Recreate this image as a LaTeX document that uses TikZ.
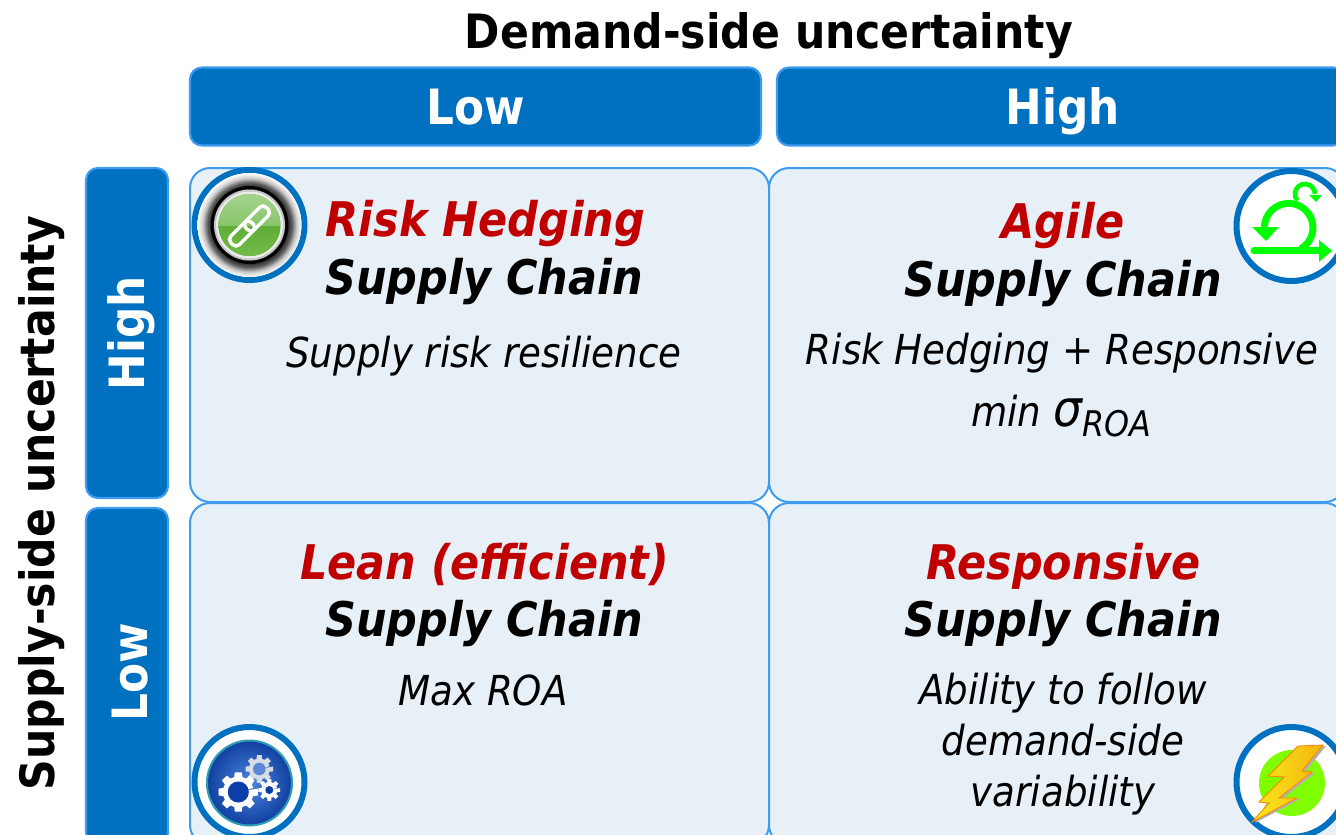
\documentclass[tikz,border=0pt]{standalone}
\usepackage{fontspec}
\setmainfont{DejaVu Sans}[FakeStretch=0.9]
\usetikzlibrary{calc}
\definecolor{hdr}{HTML}{0070C0}
\definecolor{edge}{HTML}{3D9CF0}
\definecolor{cellbg}{HTML}{E8F0F7}
\definecolor{redt}{HTML}{C00000}
\definecolor{agile}{HTML}{00FF00}
\definecolor{lime}{HTML}{80FF00}
\definecolor{glossa}{HTML}{A4D48C}
\definecolor{glossb}{HTML}{6DB54A}
\definecolor{glossc}{HTML}{4C9C26}
\definecolor{glossd}{HTML}{72BC48}
\definecolor{blin}{HTML}{4F86DB}
\definecolor{blout}{HTML}{0F3FA0}
\definecolor{blrim}{HTML}{2E9DB5}
\definecolor{holea}{HTML}{0A3EA8}
\definecolor{holeb}{HTML}{5A88D8}
\definecolor{gearg}{HTML}{D8DCE4}
\definecolor{boltl}{HTML}{F6EA1A}
\definecolor{boltr}{HTML}{F5B50F}
\pgfdeclareradialshading{halo}{\pgfpointorigin}{color(0bp)=(black); color(18bp)=(black!85!white); color(20.2bp)=(black!65!white); color(22.6bp)=(black!20!white); color(25bp)=(white); color(50bp)=(white)}
\newcommand{\gearat}[7]{% x,y,outer,inner,hole factor,colour,hole colour
  \fill[#6] (#1,#2) \foreach \a in {0,45,...,315}{
     -- ($(#1,#2)+(\a-10:#3)$) -- ($(#1,#2)+(\a+10:#3)$) -- ($(#1,#2)+(\a+15:#4)$) -- ($(#1,#2)+(\a+30:#4)$)
  } -- cycle;
  \fill[#7] (#1,#2) circle[radius=#4*#5];
}
\tikzset{
  x=0.75pt,y=-0.75pt,
  head/.style={draw=edge,line width=1.6pt,fill=hdr,rounded corners=9pt,inner sep=0pt},
  headt/.style={text=white,font=\bfseries\fontsize{36.5pt}{38pt}\selectfont,inner sep=0pt},
  axist/.style={font=\bfseries\fontsize{35.5pt}{36pt}\selectfont,inner sep=0pt},
  cell/.style={draw=edge,line width=1.5pt,fill=cellbg,rounded corners=15pt},
  ring/.style={draw=hdr,line width=4.5pt,fill=white},
  ttl/.style={font=\bfseries\itshape\fontsize{35.8pt}{36pt}\selectfont,inner sep=0pt},
  body/.style={font=\itshape\fontsize{31pt}{38.5pt}\selectfont,inner sep=0pt,align=center},
}
\begin{document}
\begin{tikzpicture}
\useasboundingbox (0,0) rectangle (1336,835);
\clip (0,0) rectangle (1336,835);
\fill[white] (0,0) rectangle (1336,835);
% headers
\node[head,minimum width=428.25pt,minimum height=58.5pt] (low) at (475.5,106.5) {};
\node[head,minimum width=426pt,minimum height=58.5pt] (high) at (1061,106.5) {};
\node[headt,anchor=base] (lowt) at (475.5,124) {Low};
\node[headt,anchor=base] (hight) at (1063,124) {High};
\node[head,minimum width=61.5pt,minimum height=247.5pt] (shigh) at (127,333) {};
\node[head,minimum width=61.5pt,minimum height=252.75pt] (slow) at (127,676.5) {};
\node[headt,rotate=90] (shight) at (131,333) {High};
\node[headt,rotate=90] (slowt) at (130,672) {Low};
\node[axist] (demand) at (769,36) {Demand-side uncertainty};
\node[axist,rotate=90] (supply) at (42,503) {Supply-side uncertainty};
% cells
\node[cell,minimum width=434.25pt,minimum height=250.5pt] (c1) at (479.5,335) {};
\node[cell,minimum width=432pt,minimum height=250.5pt] (c2) at (1057,335) {};
\node[cell,minimum width=434.25pt,minimum height=256.5pt] (c3) at (479.5,674) {};
\node[cell,minimum width=432pt,minimum height=256.5pt] (c4) at (1057,674) {};
% texts
\node[ttl,text=redt] (t1) at (485.5,224) {Risk Hedging};
\node[ttl] (t1b) at (484,282) {Supply Chain};
\node[body] (b1) at (484,356) {Supply risk resilience};
\node[ttl,text=redt] (t2) at (1063,226) {Agile};
\node[ttl] (t2b) at (1063,284) {Supply Chain};
\node[body] (b2) at (1062,353) {Risk Hedging + Responsive};
\node[body] (b2b) at (1061,416) {min {\fontsize{38pt}{38pt}\selectfont σ}\raisebox{-7.5pt}{\fontsize{26.5pt}{26pt}\selectfont ROA}};
\node[ttl,text=redt] (t3) at (484.5,565) {Lean (efficient)};
\node[ttl] (t3b) at (484,624) {Supply Chain};
\node[body] (b3) at (483,690) {Max ROA};
\node[ttl,text=redt] (t4) at (1063.5,566) {Responsive};
\node[ttl] (t4b) at (1063,624) {Supply Chain};
\node[body] (b4) at (1063,744) {Ability to follow\\demand-side\\variability};
% icon 1: chain
\draw[ring] (249.5,225) circle[radius=55];
\shade[shading=halo] (249.5,225) circle[radius=52];
\draw[black,line width=2.2pt] (249.5,225) circle[radius=37.5];
\fill[gray!45] (249.5,225) circle[radius=35.5];
\fill[white!85!gray] (249.5,225) circle[radius=33.5];
\fill[glossc] (249.5,225) circle[radius=31];
\begin{scope}
  \clip (218.5,194) rectangle (280.5,226);
  \shade[top color=glossa,bottom color=glossb] (249.5,225) circle[radius=31];
\end{scope}
\begin{scope}
  \clip (218.5,226) rectangle (280.5,256);
  \shade[top color=glossc,bottom color=glossd] (249.5,225) circle[radius=31];
\end{scope}
\begin{scope}[shift={(249.5,226)},rotate=45]
  \draw[white,line width=2.6pt,rounded corners=3.5pt] (-25,-6) rectangle (4,6);
  \draw[white,line width=2.6pt,rounded corners=3.5pt] (-4,-6) rectangle (25,6);
\end{scope}
% icon 2: agile
\draw[ring] (1291.5,226) circle[radius=55];
\draw[agile,line width=5.2pt] (1300.85,248.7) arc[start angle=60,end angle=-180,radius=24.3];
\fill[agile] (1252,227) -- (1279,227) -- (1266,241) -- cycle;
\draw[agile,line width=5.2pt,line cap=round] (1254,250.7) -- (1322,250.7);
\fill[agile] (1319,240) -- (1332,250.7) -- (1319,262) -- cycle;
\draw[agile,line width=3.5pt] (1297.3,200.4) arc[start angle=140,end angle=360,radius=10];
\fill[agile] (1309,195) -- (1322,195) -- (1316,202) -- cycle;
% icon 3: gears
\draw[ring] (249.5,782) circle[radius=55];
\shade[inner color=blin,outer color=blout] (249.5,783) circle[radius=43];
\draw[blrim,line width=1.5pt] (249.5,783) circle[radius=42.5];
\gearat{259.3}{769}{14}{10.5}{0.6}{gearg}{holeb}
\gearat{269.3}{790}{11}{8}{0.5}{white}{holea}
\gearat{238.3}{792}{20}{15.5}{0.68}{white}{holea}
% icon 4: lightning
\draw[ring] (1291.5,782) circle[radius=55];
\fill[lime] (1292,783) circle[radius=33];
\fill[gray!60] ($(1298,746)+(2,1)$) -- ($(1323,745)+(3,1)$) -- ($(1302,771)+(3,1)$) -- ($(1312,772)+(3,1)$) -- ($(1279,798)+(3,1)$) -- ($(1297,798)+(3,1)$) -- ($(1252,822)+(3,1)$) -- cycle;
\shade[left color=boltl,right color=boltr,draw=orange,line width=0.6pt] (1298,746) -- (1323,745) -- (1302,771) -- (1312,772) -- (1279,798) -- (1297,798) -- (1252,822) -- (1269,803) -- (1259,802) -- (1284,777) -- (1268,776) -- cycle;
\end{tikzpicture}
\end{document}
